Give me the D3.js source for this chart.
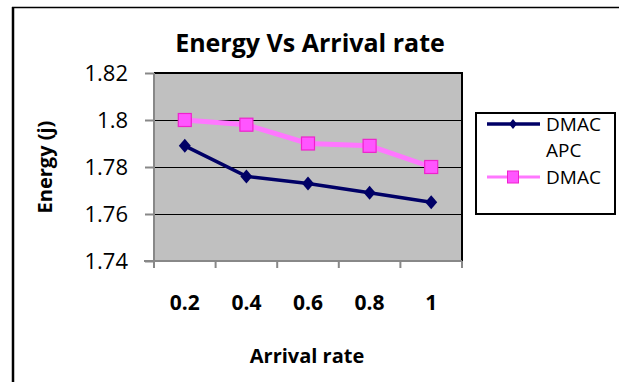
<!DOCTYPE html>
<html>
<head>
<meta charset="utf-8">
<script src="https://cdn.jsdelivr.net/npm/d3@7"></script>
<style>
  body { margin: 0; background: #fff; }
  text { font-family: "Open Sans", "DejaVu Sans", sans-serif; fill: #000; }
</style>
</head>
<body>
<div id="chart"></div>
<script>
var categories = ['0.2', '0.4', '0.6', '0.8', '1'];
var dmacApc = [1.789, 1.776, 1.773, 1.769, 1.765];
var dmac = [1.800, 1.798, 1.790, 1.789, 1.780];
var yTicks = [1.74, 1.76, 1.78, 1.8, 1.82];

var width = 619, height = 383;
var plot = {left: 154, top: 73, right: 462, bottom: 261};

var svg = d3.select('#chart')
  .append('svg')
    .attr('width', width)
    .attr('height', height);

// outer frame (only top and left edges visible)
svg.append('line')
    .attr('x1', 12).attr('x2', width).attr('y1', 7.5).attr('y2', 7.5)
    .attr('stroke', '#000').attr('stroke-width', 1.5);
svg.append('line')
    .attr('x1', 13).attr('x2', 13).attr('y1', 7).attr('y2', 382)
    .attr('stroke', '#000').attr('stroke-width', 2.5);

var x = d3.scaleBand()
    .domain(categories)
    .range([plot.left, plot.right]);

var y = d3.scaleLinear()
    .domain([1.74, 1.82])
    .range([plot.bottom, plot.top]);

// plot background
svg.append('rect')
    .attr('x', plot.left).attr('y', plot.top)
    .attr('width', plot.right - plot.left)
    .attr('height', plot.bottom - plot.top)
    .attr('fill', '#c0c0c0');

// gridlines
svg.append('g')
  .selectAll('line')
  .data(yTicks.slice(1, -1))
  .join('line')
    .attr('x1', plot.left).attr('x2', plot.right)
    .attr('y1', d => Math.round(y(d)) + 0.5)
    .attr('y2', d => Math.round(y(d)) + 0.5)
    .attr('stroke', '#000').attr('stroke-width', 1);

// top / right plot border
svg.append('path')
    .attr('d', 'M' + plot.left + ',' + plot.top + 'H' + plot.right + 'V' + plot.bottom)
    .attr('fill', 'none').attr('stroke', '#000').attr('stroke-width', 2);

// y axis
var yAxis = svg.append('g')
    .attr('transform', 'translate(' + plot.left + ',0)')
    .call(d3.axisLeft(y).tickValues(yTicks).tickSize(9).tickPadding(17)
      .tickFormat(d3.format('~g')));
yAxis.selectAll('path, line').attr('stroke', '#888').attr('stroke-width', 2);
yAxis.select('.domain').attr('d', 'M0,' + plot.top + 'V' + plot.bottom);
yAxis.selectAll('text')
    .style('font-family', '"Open Sans", sans-serif')
    .style('font-size', '22px')
    .attr('dy', '0.35em');

// x axis: ticks on category boundaries, labels at category centres
var xAxisG = svg.append('g')
    .attr('transform', 'translate(0,' + plot.bottom + ')');
xAxisG.append('line')
    .attr('x1', plot.left - 10).attr('x2', plot.right)
    .attr('stroke', '#888').attr('stroke-width', 2);
var bounds = categories.map(c => x(c)).concat([x.range()[1]]);
xAxisG.selectAll('.tk')
  .data(bounds)
  .join('line')
    .attr('class', 'tk')
    .attr('x1', d => d).attr('x2', d => d)
    .attr('y1', 0).attr('y2', 7)
    .attr('stroke', '#888').attr('stroke-width', 2);
xAxisG.selectAll('.lbl')
  .data(categories)
  .join('text')
    .attr('class', 'lbl')
    .attr('x', d => x(d) + x.bandwidth() / 2)
    .attr('y', 49)
    .attr('text-anchor', 'middle')
    .style('font-size', '21px')
    .style('font-weight', 'bold')
    .text(d => d);

// series
var cx = d => x(d) + x.bandwidth() / 2;
var line = d3.line()
    .x((d, i) => cx(categories[i]))
    .y(d => y(d));

svg.append('path')
    .datum(dmac)
    .attr('fill', 'none')
    .attr('stroke', '#ff77ff')
    .attr('stroke-width', 5)
    .attr('d', line);

svg.append('path')
    .datum(dmacApc)
    .attr('fill', 'none')
    .attr('stroke', '#000066')
    .attr('stroke-width', 3.5)
    .attr('d', line);

var diamond = 'M0,-7L6,0L0,7L-6,0Z';

svg.append('g')
  .selectAll('path')
  .data(dmacApc)
  .join('path')
    .attr('transform', (d, i) => 'translate(' + cx(categories[i]) + ',' + y(d) + ')')
    .attr('d', diamond)
    .attr('fill', '#000066');

svg.append('g')
  .selectAll('rect')
  .data(dmac)
  .join('rect')
    .attr('x', (d, i) => cx(categories[i]) - 6.5)
    .attr('y', d => y(d) - 6.5)
    .attr('width', 13).attr('height', 13)
    .attr('fill', '#ff55ff')
    .attr('stroke', '#ee22cc')
    .attr('stroke-width', 1.2);

// title
svg.append('text')
    .attr('x', 310).attr('y', 52)
    .attr('text-anchor', 'middle')
    .style('font-size', '25px')
    .style('font-weight', 'bold')
    .text('Energy Vs Arrival rate');

// axis titles
svg.append('text')
    .attr('x', 307).attr('y', 363)
    .attr('text-anchor', 'middle')
    .style('font-size', '20px')
    .style('font-weight', 'bold')
    .text('Arrival rate');

svg.append('text')
    .attr('transform', 'translate(52,167) rotate(-90)')
    .attr('text-anchor', 'middle')
    .style('font-size', '20px')
    .style('font-weight', 'bold')
    .text('Energy (j)');

// legend
var legend = svg.append('g');
legend.append('rect')
    .attr('x', 476).attr('y', 113)
    .attr('width', 139).attr('height', 101)
    .attr('fill', '#fff').attr('stroke', '#000').attr('stroke-width', 2);

var legendItems = [
  {name: ['DMAC', 'APC'], y: 124, color: '#000066', width: 3.5, marker: 'diamond'},
  {name: ['DMAC'], y: 177, color: '#ff77ff', width: 3, marker: 'square'}
];
legendItems.forEach(function(it) {
  legend.append('line')
      .attr('x1', 487).attr('x2', 540)
      .attr('y1', it.y).attr('y2', it.y)
      .attr('stroke', it.color).attr('stroke-width', it.width);
  if (it.marker === 'diamond') {
    legend.append('path')
        .attr('transform', 'translate(513,' + it.y + ')')
        .attr('d', 'M0,-5L4,0L0,5L-4,0Z')
        .attr('fill', it.color);
  } else {
    legend.append('rect')
        .attr('x', 507.5).attr('y', it.y - 6)
        .attr('width', 11).attr('height', 12)
        .attr('fill', '#ff55ff').attr('stroke', '#ee22cc');
  }
  it.name.forEach(function(t, k) {
    legend.append('text')
        .attr('x', 546).attr('y', it.y + 7 + k * 26)
        .style('font-size', '19px')
        .text(t);
  });
});
</script>
</body>
</html>
